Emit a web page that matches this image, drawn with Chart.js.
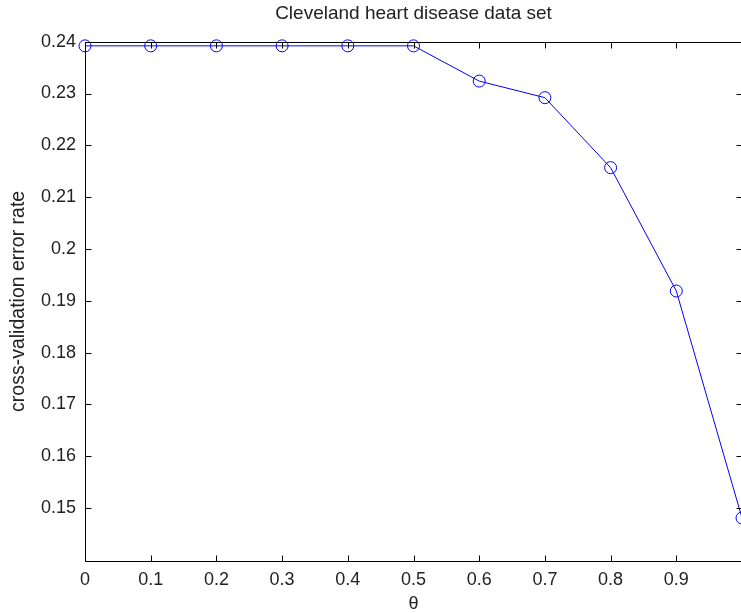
<!DOCTYPE html>
<html>
<head>
<meta charset="utf-8">
<script src="https://cdn.jsdelivr.net/npm/chart.js@4/dist/chart.umd.min.js"></script>
<style>
  html, body { margin: 0; padding: 0; background: #fff; overflow: hidden; }
  #wrap { width: 741px; height: 613px; overflow: hidden; position: relative; }
  canvas { display: block; }
</style>
</head>
<body>
<div id="wrap"><canvas id="c" width="750" height="613"></canvas></div>
<script>
const chartTitle = 'Cleveland heart disease data set';
const xAxisTitle = 'θ';
const yAxisTitle = 'cross-validation error rate';
const thetaValues = [0, 0.1, 0.2, 0.3, 0.4, 0.5, 0.6, 0.7, 0.8, 0.9, 1.0];
const errorRates = [0.2392, 0.2392, 0.2392, 0.2392, 0.2392, 0.2392, 0.2324, 0.2292, 0.2157, 0.1919, 0.1481];
const xTickValues = [0, 0.1, 0.2, 0.3, 0.4, 0.5, 0.6, 0.7, 0.8, 0.9, 1.0];
const xTickLabels = ['0', '0.1', '0.2', '0.3', '0.4', '0.5', '0.6', '0.7', '0.8', '0.9', ''];
const yTickValues = [0.15, 0.16, 0.17, 0.18, 0.19, 0.20, 0.21, 0.22, 0.23, 0.24];
const yTickLabels = ['0.15', '0.16', '0.17', '0.18', '0.19', '0.2', '0.21', '0.22', '0.23', '0.24'];

const FONT = '"Liberation Sans", Arial, sans-serif';
const TEXT = '#222';

const axesTitle = {
  id: 'axesTitle',
  afterDraw(chart) {
    const ctx = chart.ctx, a = chart.chartArea;
    ctx.save();
    ctx.fillStyle = TEXT;
    ctx.font = '19px ' + FONT;
    ctx.textAlign = 'center';
    ctx.textBaseline = 'middle';
    ctx.fillText(chartTitle, (a.left + a.right) / 2, 14);
    ctx.restore();
  }
};

const boxTicks = {
  id: 'boxTicks',
  afterDraw(chart) {
    const ctx = chart.ctx, a = chart.chartArea;
    const xs = chart.scales.x, ys = chart.scales.y;
    const L = 6;
    ctx.save();
    ctx.strokeStyle = '#000';
    ctx.lineWidth = 1;
    ctx.beginPath();
    const top = Math.round(a.top) + 0.5, bot = Math.round(a.bottom) + 0.5;
    const left = Math.round(a.left) + 0.5, right = Math.round(a.right) + 0.5;
    ctx.moveTo(left, top); ctx.lineTo(right, top); ctx.lineTo(right, bot); ctx.lineTo(left, bot); ctx.closePath();
    xTickValues.forEach(v => {
      const px = Math.round(xs.getPixelForValue(v)) + 0.5;
      ctx.moveTo(px, bot); ctx.lineTo(px, bot - L);
      ctx.moveTo(px, top); ctx.lineTo(px, top + L);
    });
    yTickValues.forEach(v => {
      const py = Math.round(ys.getPixelForValue(v)) + 0.5;
      ctx.moveTo(left, py); ctx.lineTo(left + L, py);
      ctx.moveTo(right, py); ctx.lineTo(right - L, py);
    });
    ctx.stroke();
    ctx.restore();
  }
};

new Chart(document.getElementById('c'), {
  type: 'line',
  data: {
    datasets: [{
      data: thetaValues.map((x, i) => ({ x: x, y: errorRates[i] })),
      borderColor: '#0000ff',
      borderWidth: 1,
      pointStyle: 'circle',
      pointRadius: 6,
      pointHoverRadius: 6,
      pointBorderColor: '#0000ff',
      pointBackgroundColor: 'rgba(0,0,0,0)',
      pointBorderWidth: 1,
      fill: false,
      tension: 0,
      clip: false
    }]
  },
  options: {
    responsive: false,
    animation: false,
    devicePixelRatio: 1,
    layout: { padding: { left: 0, right: 6, top: 41.7, bottom: 0 } },
    plugins: {
      legend: { display: false },
      tooltip: { enabled: false },
      title: { display: false }
    },
    scales: {
      x: {
        type: 'linear',
        min: 0,
        max: 1,
        afterBuildTicks(scale) { scale.ticks = xTickValues.map(v => ({ value: v })); },
        afterFit(scale) { scale.height = 52; },
        ticks: {
          autoSkip: false,
          maxRotation: 0,
          padding: 8,
          color: TEXT,
          font: { family: FONT, size: 18 },
          callback: (v, i) => xTickLabels[i]
        },
        grid: { display: false, drawTicks: false },
        border: { display: false },
        title: {
          display: true,
          text: xAxisTitle,
          color: TEXT,
          font: { family: FONT, size: 18, lineHeight: 1.0 },
          padding: { top: 0, bottom: 0 }
        }
      },
      y: {
        type: 'linear',
        min: 0.1398,
        max: 0.24,
        afterBuildTicks(scale) { scale.ticks = yTickValues.map(v => ({ value: v })); },
        afterFit(scale) { scale.width = 85; },
        ticks: {
          autoSkip: false,
          padding: 9,
          color: TEXT,
          font: { family: FONT, size: 18 },
          callback: (v, i) => yTickLabels[i]
        },
        grid: { display: false, drawTicks: false },
        border: { display: false },
        title: {
          display: true,
          text: yAxisTitle,
          color: TEXT,
          font: { family: FONT, size: 19.5, lineHeight: 1.2 },
          padding: { top: 7, bottom: 0 }
        }
      }
    }
  },
  plugins: [boxTicks, axesTitle]
});
</script>
</body>
</html>
